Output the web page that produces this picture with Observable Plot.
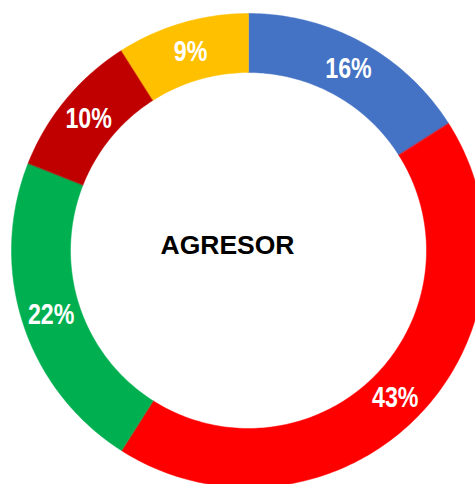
<!DOCTYPE html>
<html>
<head>
<meta charset="utf-8">
<script src="https://cdn.jsdelivr.net/npm/d3@7"></script>
<script src="https://cdn.jsdelivr.net/npm/@observablehq/plot@0.6"></script>
<style>
  html, body { margin: 0; padding: 0; background: #fff; overflow: hidden; }
  #chart { width: 475px; height: 484px; }
</style>
</head>
<body>
<div id="chart"></div>
<script>
// Data
const categories = ["A", "B", "C", "D", "E"];
const values = [16, 43, 22, 10, 9];
const labels = ["16%", "43%", "22%", "10%", "9%"];
const colors = ["#4472C4", "#FF0000", "#00B050", "#C00000", "#FFC000"];
const centerTitle = ["AGRESOR"];

const outerR = 1;
const innerR = 0.751;

const pie = d3.pie().sort(null).value(d => d.value);
const arcs = pie(categories.map((c, i) => ({cat: c, value: values[i], label: labels[i]})));

// Build polygon points of each ring slice
const pts = [];
for (const a of arcs) {
  const n = Math.max(8, Math.ceil((a.endAngle - a.startAngle) * 60));
  for (let k = 0; k <= n; k++) {
    const t = a.startAngle + (a.endAngle - a.startAngle) * k / n;
    pts.push({cat: a.data.cat, x: outerR * Math.sin(t), y: outerR * Math.cos(t)});
  }
  for (let k = n; k >= 0; k--) {
    const t = a.startAngle + (a.endAngle - a.startAngle) * k / n;
    pts.push({cat: a.data.cat, x: innerR * Math.sin(t), y: innerR * Math.cos(t)});
  }
}
const midR = (outerR + innerR) / 2;
const labelData = arcs.map(a => {
  const m = (a.startAngle + a.endAngle) / 2;
  return {label: a.data.label, x: midR * Math.sin(m), y: midR * Math.cos(m)};
});

const plot = Plot.plot({
  width: 475,
  height: 484,
  style: {background: "white", overflow: "hidden"},
  x: {domain: [-1, 1], range: [11, 485], axis: null},
  y: {domain: [-1, 1], range: [487, 13], axis: null},
  color: {domain: categories, range: colors},
  marks: [
    Plot.line(pts, {x: "x", y: "y", z: "cat", fill: "cat", stroke: "cat", strokeWidth: 0.5, curve: "linear-closed"}),
    Plot.text(labelData, {
      x: "x", y: "y", text: "label", fill: "white",
      fontSize: 29, fontWeight: "bold",
      fontFamily: "'Liberation Sans', Arial, sans-serif",
      className: "pct",
      dy: 0
    }),
    Plot.text(centerTitle, {
      x: [-0.0886], y: [0.021], text: d => d, fill: "black",
      fontSize: 26.5, fontWeight: "bold",
      fontFamily: "'Liberation Sans', Arial, sans-serif"
    })
  ]
});
document.getElementById("chart").append(plot);

// Condense the percentage labels horizontally (narrow bold look)
plot.querySelectorAll(".pct text").forEach(t => {
  const tr = t.getAttribute("transform");
  if (tr) {
    t.setAttribute("transform", tr + " scale(0.8,1)");
  } else {
    const x = +t.getAttribute("x") || 0, y = +t.getAttribute("y") || 0;
    t.removeAttribute("x"); t.removeAttribute("y");
    t.setAttribute("transform", `translate(${x},${y}) scale(0.8,1)`);
  }
});
</script>
</body>
</html>
